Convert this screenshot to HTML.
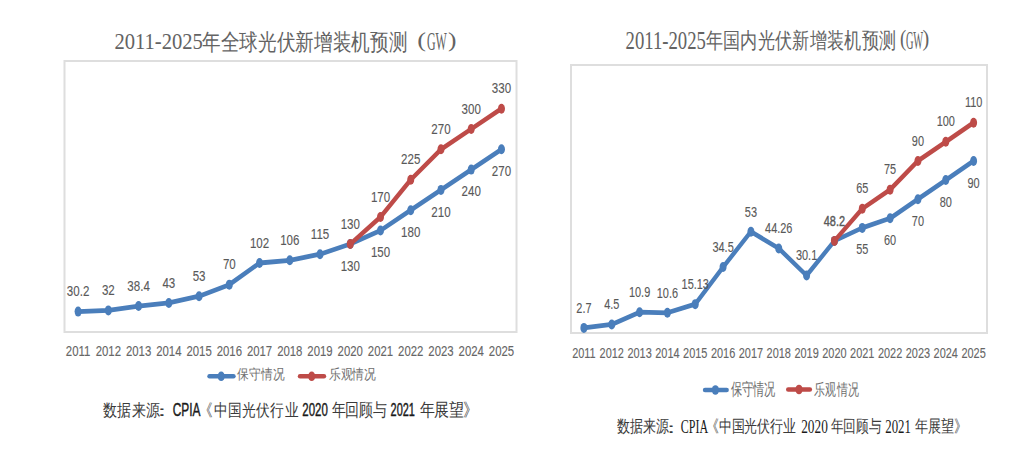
<!DOCTYPE html><html><head><meta charset="utf-8"><style>html,body{margin:0;padding:0;background:#fff;width:1015px;height:456px;overflow:hidden}svg{display:block;font-family:"Liberation Sans",sans-serif}</style></head><body>
<svg width="1015" height="456" viewBox="0 0 1015 456">
<rect x="64.5" y="61" width="452.0" height="271" fill="none" stroke="#dedede" stroke-width="2"/>
<g transform="scale(1,1.2)"><polyline points="78.10,259.667 108.34,258.652 138.58,255.042 168.82,252.448 199.06,246.808 229.30,237.220 259.54,219.172 289.78,216.916 320.02,211.840 350.26,203.380 380.50,192.100 410.74,175.180 440.98,158.260 471.22,141.340 501.46,124.420" fill="none" stroke="#4a7ebb" stroke-width="4.0" stroke-linejoin="round"/></g>
<ellipse cx="78.10" cy="311.60" rx="3.5" ry="5" fill="#4a7ebb"/>
<ellipse cx="108.34" cy="310.38" rx="3.5" ry="5" fill="#4a7ebb"/>
<ellipse cx="138.58" cy="306.05" rx="3.5" ry="5" fill="#4a7ebb"/>
<ellipse cx="168.82" cy="302.94" rx="3.5" ry="5" fill="#4a7ebb"/>
<ellipse cx="199.06" cy="296.17" rx="3.5" ry="5" fill="#4a7ebb"/>
<ellipse cx="229.30" cy="284.66" rx="3.5" ry="5" fill="#4a7ebb"/>
<ellipse cx="259.54" cy="263.01" rx="3.5" ry="5" fill="#4a7ebb"/>
<ellipse cx="289.78" cy="260.30" rx="3.5" ry="5" fill="#4a7ebb"/>
<ellipse cx="320.02" cy="254.21" rx="3.5" ry="5" fill="#4a7ebb"/>
<ellipse cx="350.26" cy="244.06" rx="3.5" ry="5" fill="#4a7ebb"/>
<ellipse cx="380.50" cy="230.52" rx="3.5" ry="5" fill="#4a7ebb"/>
<ellipse cx="410.74" cy="210.22" rx="3.5" ry="5" fill="#4a7ebb"/>
<ellipse cx="440.98" cy="189.91" rx="3.5" ry="5" fill="#4a7ebb"/>
<ellipse cx="471.22" cy="169.61" rx="3.5" ry="5" fill="#4a7ebb"/>
<ellipse cx="501.46" cy="149.30" rx="3.5" ry="5" fill="#4a7ebb"/>
<g transform="scale(1,1.2)"><polyline points="350.26,203.380 380.50,180.820 410.74,149.800 440.98,124.420 471.22,107.500 501.46,90.580" fill="none" stroke="#be4b48" stroke-width="4.0" stroke-linejoin="round"/></g>
<ellipse cx="350.26" cy="244.06" rx="3.5" ry="5" fill="#be4b48"/>
<ellipse cx="380.50" cy="216.98" rx="3.5" ry="5" fill="#be4b48"/>
<ellipse cx="410.74" cy="179.76" rx="3.5" ry="5" fill="#be4b48"/>
<ellipse cx="440.98" cy="149.30" rx="3.5" ry="5" fill="#be4b48"/>
<ellipse cx="471.22" cy="129.00" rx="3.5" ry="5" fill="#be4b48"/>
<ellipse cx="501.46" cy="108.70" rx="3.5" ry="5" fill="#be4b48"/>
<text transform="translate(78.10,296.40) scale(0.78,1)" text-anchor="middle" font-size="14.8" fill="#595959" stroke="#595959" stroke-width="0.12">30.2</text>
<text transform="translate(108.34,295.18) scale(0.78,1)" text-anchor="middle" font-size="14.8" fill="#595959" stroke="#595959" stroke-width="0.12">32</text>
<text transform="translate(138.58,290.85) scale(0.78,1)" text-anchor="middle" font-size="14.8" fill="#595959" stroke="#595959" stroke-width="0.12">38.4</text>
<text transform="translate(168.82,287.74) scale(0.78,1)" text-anchor="middle" font-size="14.8" fill="#595959" stroke="#595959" stroke-width="0.12">43</text>
<text transform="translate(199.06,280.97) scale(0.78,1)" text-anchor="middle" font-size="14.8" fill="#595959" stroke="#595959" stroke-width="0.12">53</text>
<text transform="translate(229.30,269.46) scale(0.78,1)" text-anchor="middle" font-size="14.8" fill="#595959" stroke="#595959" stroke-width="0.12">70</text>
<text transform="translate(259.54,247.81) scale(0.78,1)" text-anchor="middle" font-size="14.8" fill="#595959" stroke="#595959" stroke-width="0.12">102</text>
<text transform="translate(289.78,245.10) scale(0.78,1)" text-anchor="middle" font-size="14.8" fill="#595959" stroke="#595959" stroke-width="0.12">106</text>
<text transform="translate(320.02,239.01) scale(0.78,1)" text-anchor="middle" font-size="14.8" fill="#595959" stroke="#595959" stroke-width="0.12">115</text>
<text transform="translate(350.26,270.66) scale(0.78,1)" text-anchor="middle" font-size="14.8" fill="#595959" stroke="#595959" stroke-width="0.12">130</text>
<text transform="translate(380.50,257.12) scale(0.78,1)" text-anchor="middle" font-size="14.8" fill="#595959" stroke="#595959" stroke-width="0.12">150</text>
<text transform="translate(410.74,236.82) scale(0.78,1)" text-anchor="middle" font-size="14.8" fill="#595959" stroke="#595959" stroke-width="0.12">180</text>
<text transform="translate(440.98,216.51) scale(0.78,1)" text-anchor="middle" font-size="14.8" fill="#595959" stroke="#595959" stroke-width="0.12">210</text>
<text transform="translate(471.22,196.21) scale(0.78,1)" text-anchor="middle" font-size="14.8" fill="#595959" stroke="#595959" stroke-width="0.12">240</text>
<text transform="translate(501.46,175.90) scale(0.78,1)" text-anchor="middle" font-size="14.8" fill="#595959" stroke="#595959" stroke-width="0.12">270</text>
<text transform="translate(350.26,228.66) scale(0.78,1)" text-anchor="middle" font-size="14.8" fill="#595959" stroke="#595959" stroke-width="0.12">130</text>
<text transform="translate(380.50,201.58) scale(0.78,1)" text-anchor="middle" font-size="14.8" fill="#595959" stroke="#595959" stroke-width="0.12">170</text>
<text transform="translate(410.74,164.36) scale(0.78,1)" text-anchor="middle" font-size="14.8" fill="#595959" stroke="#595959" stroke-width="0.12">225</text>
<text transform="translate(440.98,133.90) scale(0.78,1)" text-anchor="middle" font-size="14.8" fill="#595959" stroke="#595959" stroke-width="0.12">270</text>
<text transform="translate(471.22,113.60) scale(0.78,1)" text-anchor="middle" font-size="14.8" fill="#595959" stroke="#595959" stroke-width="0.12">300</text>
<text transform="translate(501.46,93.30) scale(0.78,1)" text-anchor="middle" font-size="14.8" fill="#595959" stroke="#595959" stroke-width="0.12">330</text>
<text transform="translate(78.10,356.30) scale(0.78,1)" text-anchor="middle" font-size="14.6" fill="#666666" stroke="#666666" stroke-width="0.12">2011</text>
<text transform="translate(108.34,356.30) scale(0.78,1)" text-anchor="middle" font-size="14.6" fill="#666666" stroke="#666666" stroke-width="0.12">2012</text>
<text transform="translate(138.58,356.30) scale(0.78,1)" text-anchor="middle" font-size="14.6" fill="#666666" stroke="#666666" stroke-width="0.12">2013</text>
<text transform="translate(168.82,356.30) scale(0.78,1)" text-anchor="middle" font-size="14.6" fill="#666666" stroke="#666666" stroke-width="0.12">2014</text>
<text transform="translate(199.06,356.30) scale(0.78,1)" text-anchor="middle" font-size="14.6" fill="#666666" stroke="#666666" stroke-width="0.12">2015</text>
<text transform="translate(229.30,356.30) scale(0.78,1)" text-anchor="middle" font-size="14.6" fill="#666666" stroke="#666666" stroke-width="0.12">2016</text>
<text transform="translate(259.54,356.30) scale(0.78,1)" text-anchor="middle" font-size="14.6" fill="#666666" stroke="#666666" stroke-width="0.12">2017</text>
<text transform="translate(289.78,356.30) scale(0.78,1)" text-anchor="middle" font-size="14.6" fill="#666666" stroke="#666666" stroke-width="0.12">2018</text>
<text transform="translate(320.02,356.30) scale(0.78,1)" text-anchor="middle" font-size="14.6" fill="#666666" stroke="#666666" stroke-width="0.12">2019</text>
<text transform="translate(350.26,356.30) scale(0.78,1)" text-anchor="middle" font-size="14.6" fill="#666666" stroke="#666666" stroke-width="0.12">2020</text>
<text transform="translate(380.50,356.30) scale(0.78,1)" text-anchor="middle" font-size="14.6" fill="#666666" stroke="#666666" stroke-width="0.12">2021</text>
<text transform="translate(410.74,356.30) scale(0.78,1)" text-anchor="middle" font-size="14.6" fill="#666666" stroke="#666666" stroke-width="0.12">2022</text>
<text transform="translate(440.98,356.30) scale(0.78,1)" text-anchor="middle" font-size="14.6" fill="#666666" stroke="#666666" stroke-width="0.12">2023</text>
<text transform="translate(471.22,356.30) scale(0.78,1)" text-anchor="middle" font-size="14.6" fill="#666666" stroke="#666666" stroke-width="0.12">2024</text>
<text transform="translate(501.46,356.30) scale(0.78,1)" text-anchor="middle" font-size="14.6" fill="#666666" stroke="#666666" stroke-width="0.12">2025</text>
<rect x="571" y="65" width="416" height="268" fill="none" stroke="#dedede" stroke-width="2"/>
<g transform="scale(1,1.2)"><polyline points="583.90,273.247 611.74,270.379 639.57,260.179 667.41,260.657 695.24,253.438 723.08,222.569 750.92,193.086 778.75,207.014 806.59,229.581 834.42,200.735 862.26,189.898 890.10,181.930 917.93,165.993 945.77,150.057 973.60,134.120" fill="none" stroke="#4a7ebb" stroke-width="4.0" stroke-linejoin="round"/></g>
<ellipse cx="583.90" cy="327.90" rx="3.5" ry="5" fill="#4a7ebb"/>
<ellipse cx="611.74" cy="324.45" rx="3.5" ry="5" fill="#4a7ebb"/>
<ellipse cx="639.57" cy="312.21" rx="3.5" ry="5" fill="#4a7ebb"/>
<ellipse cx="667.41" cy="312.79" rx="3.5" ry="5" fill="#4a7ebb"/>
<ellipse cx="695.24" cy="304.13" rx="3.5" ry="5" fill="#4a7ebb"/>
<ellipse cx="723.08" cy="267.08" rx="3.5" ry="5" fill="#4a7ebb"/>
<ellipse cx="750.92" cy="231.70" rx="3.5" ry="5" fill="#4a7ebb"/>
<ellipse cx="778.75" cy="248.42" rx="3.5" ry="5" fill="#4a7ebb"/>
<ellipse cx="806.59" cy="275.50" rx="3.5" ry="5" fill="#4a7ebb"/>
<ellipse cx="834.42" cy="240.88" rx="3.5" ry="5" fill="#4a7ebb"/>
<ellipse cx="862.26" cy="227.88" rx="3.5" ry="5" fill="#4a7ebb"/>
<ellipse cx="890.10" cy="218.32" rx="3.5" ry="5" fill="#4a7ebb"/>
<ellipse cx="917.93" cy="199.19" rx="3.5" ry="5" fill="#4a7ebb"/>
<ellipse cx="945.77" cy="180.07" rx="3.5" ry="5" fill="#4a7ebb"/>
<ellipse cx="973.60" cy="160.94" rx="3.5" ry="5" fill="#4a7ebb"/>
<g transform="scale(1,1.2)"><polyline points="834.42,200.735 862.26,173.962 890.10,158.025 917.93,134.120 945.77,118.183 973.60,102.247" fill="none" stroke="#be4b48" stroke-width="4.0" stroke-linejoin="round"/></g>
<ellipse cx="834.42" cy="240.88" rx="3.5" ry="5" fill="#be4b48"/>
<ellipse cx="862.26" cy="208.75" rx="3.5" ry="5" fill="#be4b48"/>
<ellipse cx="890.10" cy="189.63" rx="3.5" ry="5" fill="#be4b48"/>
<ellipse cx="917.93" cy="160.94" rx="3.5" ry="5" fill="#be4b48"/>
<ellipse cx="945.77" cy="141.82" rx="3.5" ry="5" fill="#be4b48"/>
<ellipse cx="973.60" cy="122.70" rx="3.5" ry="5" fill="#be4b48"/>
<text transform="translate(583.90,312.70) scale(0.77,1)" text-anchor="middle" font-size="14.2" fill="#595959" stroke="#595959" stroke-width="0.12">2.7</text>
<text transform="translate(611.74,309.25) scale(0.77,1)" text-anchor="middle" font-size="14.2" fill="#595959" stroke="#595959" stroke-width="0.12">4.5</text>
<text transform="translate(639.57,297.01) scale(0.77,1)" text-anchor="middle" font-size="14.2" fill="#595959" stroke="#595959" stroke-width="0.12">10.9</text>
<text transform="translate(667.41,297.59) scale(0.77,1)" text-anchor="middle" font-size="14.2" fill="#595959" stroke="#595959" stroke-width="0.12">10.6</text>
<text transform="translate(695.24,288.93) scale(0.77,1)" text-anchor="middle" font-size="14.2" fill="#595959" stroke="#595959" stroke-width="0.12">15.13</text>
<text transform="translate(723.08,251.88) scale(0.77,1)" text-anchor="middle" font-size="14.2" fill="#595959" stroke="#595959" stroke-width="0.12">34.5</text>
<text transform="translate(750.92,216.50) scale(0.77,1)" text-anchor="middle" font-size="14.2" fill="#595959" stroke="#595959" stroke-width="0.12">53</text>
<text transform="translate(778.75,233.22) scale(0.77,1)" text-anchor="middle" font-size="14.2" fill="#595959" stroke="#595959" stroke-width="0.12">44.26</text>
<text transform="translate(806.59,260.30) scale(0.77,1)" text-anchor="middle" font-size="14.2" fill="#595959" stroke="#595959" stroke-width="0.12">30.1</text>
<text transform="translate(834.42,225.68) scale(0.77,1)" text-anchor="middle" font-size="14.2" fill="#595959" stroke="#595959" stroke-width="0.4">48.2</text>
<text transform="translate(862.26,254.48) scale(0.77,1)" text-anchor="middle" font-size="14.2" fill="#595959" stroke="#595959" stroke-width="0.12">55</text>
<text transform="translate(890.10,244.92) scale(0.77,1)" text-anchor="middle" font-size="14.2" fill="#595959" stroke="#595959" stroke-width="0.12">60</text>
<text transform="translate(917.93,225.79) scale(0.77,1)" text-anchor="middle" font-size="14.2" fill="#595959" stroke="#595959" stroke-width="0.12">70</text>
<text transform="translate(945.77,206.67) scale(0.77,1)" text-anchor="middle" font-size="14.2" fill="#595959" stroke="#595959" stroke-width="0.12">80</text>
<text transform="translate(973.60,187.54) scale(0.77,1)" text-anchor="middle" font-size="14.2" fill="#595959" stroke="#595959" stroke-width="0.12">90</text>
<text transform="translate(862.26,193.35) scale(0.77,1)" text-anchor="middle" font-size="14.2" fill="#595959" stroke="#595959" stroke-width="0.12">65</text>
<text transform="translate(890.10,174.23) scale(0.77,1)" text-anchor="middle" font-size="14.2" fill="#595959" stroke="#595959" stroke-width="0.12">75</text>
<text transform="translate(917.93,145.54) scale(0.77,1)" text-anchor="middle" font-size="14.2" fill="#595959" stroke="#595959" stroke-width="0.12">90</text>
<text transform="translate(945.77,126.42) scale(0.77,1)" text-anchor="middle" font-size="14.2" fill="#595959" stroke="#595959" stroke-width="0.12">100</text>
<text transform="translate(973.60,107.30) scale(0.77,1)" text-anchor="middle" font-size="14.2" fill="#595959" stroke="#595959" stroke-width="0.12">110</text>
<text transform="translate(583.90,358.20) scale(0.72,1)" text-anchor="middle" font-size="15.2" fill="#666666" stroke="#666666" stroke-width="0.12">2011</text>
<text transform="translate(611.74,358.20) scale(0.72,1)" text-anchor="middle" font-size="15.2" fill="#666666" stroke="#666666" stroke-width="0.12">2012</text>
<text transform="translate(639.57,358.20) scale(0.72,1)" text-anchor="middle" font-size="15.2" fill="#666666" stroke="#666666" stroke-width="0.12">2013</text>
<text transform="translate(667.41,358.20) scale(0.72,1)" text-anchor="middle" font-size="15.2" fill="#666666" stroke="#666666" stroke-width="0.12">2014</text>
<text transform="translate(695.24,358.20) scale(0.72,1)" text-anchor="middle" font-size="15.2" fill="#666666" stroke="#666666" stroke-width="0.12">2015</text>
<text transform="translate(723.08,358.20) scale(0.72,1)" text-anchor="middle" font-size="15.2" fill="#666666" stroke="#666666" stroke-width="0.12">2016</text>
<text transform="translate(750.92,358.20) scale(0.72,1)" text-anchor="middle" font-size="15.2" fill="#666666" stroke="#666666" stroke-width="0.12">2017</text>
<text transform="translate(778.75,358.20) scale(0.72,1)" text-anchor="middle" font-size="15.2" fill="#666666" stroke="#666666" stroke-width="0.12">2018</text>
<text transform="translate(806.59,358.20) scale(0.72,1)" text-anchor="middle" font-size="15.2" fill="#666666" stroke="#666666" stroke-width="0.12">2019</text>
<text transform="translate(834.42,358.20) scale(0.72,1)" text-anchor="middle" font-size="15.2" fill="#666666" stroke="#666666" stroke-width="0.12">2020</text>
<text transform="translate(862.26,358.20) scale(0.72,1)" text-anchor="middle" font-size="15.2" fill="#666666" stroke="#666666" stroke-width="0.12">2021</text>
<text transform="translate(890.10,358.20) scale(0.72,1)" text-anchor="middle" font-size="15.2" fill="#666666" stroke="#666666" stroke-width="0.12">2022</text>
<text transform="translate(917.93,358.20) scale(0.72,1)" text-anchor="middle" font-size="15.2" fill="#666666" stroke="#666666" stroke-width="0.12">2023</text>
<text transform="translate(945.77,358.20) scale(0.72,1)" text-anchor="middle" font-size="15.2" fill="#666666" stroke="#666666" stroke-width="0.12">2024</text>
<text transform="translate(973.60,358.20) scale(0.72,1)" text-anchor="middle" font-size="15.2" fill="#666666" stroke="#666666" stroke-width="0.12">2025</text>
<line x1="209.5" y1="376.3" x2="233.5" y2="376.3" stroke="#4a7ebb" stroke-width="4.4" stroke-linecap="round"/>
<ellipse cx="221.2" cy="376.3" rx="3.6" ry="4.8" fill="#4a7ebb"/>
<line x1="300" y1="376.3" x2="324" y2="376.3" stroke="#be4b48" stroke-width="4.4" stroke-linecap="round"/>
<ellipse cx="311.7" cy="376.3" rx="3.6" ry="4.8" fill="#be4b48"/>
<line x1="705" y1="390" x2="726.7" y2="390" stroke="#4a7ebb" stroke-width="4.4" stroke-linecap="round"/>
<ellipse cx="715.4" cy="390" rx="3.6" ry="4.8" fill="#4a7ebb"/>
<line x1="788.2" y1="389.5" x2="809.9" y2="389.5" stroke="#be4b48" stroke-width="4.4" stroke-linecap="round"/>
<ellipse cx="799" cy="389.5" rx="3.6" ry="4.8" fill="#be4b48"/>
<text transform="matrix(0.20592,0,0,0.23382,104.180,2.568)" x="50" y="200" font-family="Liberation Serif" font-weight="normal" font-size="100" fill="#636363">2011-2025</text>
<text transform="matrix(0.18548,0,0,0.22919,192.677,4.050)" x="50" y="200" font-family="Liberation Serif" font-weight="normal" font-size="100" fill="#636363">年全球光伏新增装机预测</text>
<text transform="matrix(0.26342,0,0,0.21388,404.100,4.187)" x="50" y="200" font-family="Liberation Serif" font-weight="normal" font-size="100" fill="#636363">(</text>
<text transform="matrix(0.11931,0,0,0.25440,421.051,-1.158)" x="50" y="200" font-family="Liberation Serif" font-weight="normal" font-size="100" fill="#636363">GW</text>
<text transform="matrix(0.25385,0,0,0.20889,435.346,5.036)" x="50" y="200" font-family="Liberation Serif" font-weight="normal" font-size="100" fill="#636363">)</text>
<text transform="matrix(0.18695,0,0,0.25429,616.263,-2.231)" x="50" y="200" font-family="Liberation Serif" font-weight="normal" font-size="100" fill="#636363">2011-2025</text>
<text transform="matrix(0.17379,0,0,0.22347,696.837,3.378)" x="50" y="200" font-family="Liberation Serif" font-weight="normal" font-size="100" fill="#636363">年国内光伏新增装机预测</text>
<text transform="matrix(0.18706,0,0,0.23400,890.584,-0.502)" x="50" y="200" font-family="Liberation Serif" font-weight="normal" font-size="100" fill="#636363">(</text>
<text transform="matrix(0.10365,0,0,0.24668,900.704,-0.667)" x="50" y="200" font-family="Liberation Serif" font-weight="normal" font-size="100" fill="#636363">GW</text>
<text transform="matrix(0.20226,0,0,0.23432,912.485,-0.465)" x="50" y="200" font-family="Liberation Serif" font-weight="normal" font-size="100" fill="#636363">)</text>
<text transform="matrix(0.11933,0,0,0.14288,231.257,350.653)" x="50" y="200" font-family="Liberation Serif" font-weight="normal" font-size="100" fill="#6e6e6e">保守情况</text>
<text transform="matrix(0.11625,0,0,0.13797,322.955,351.565)" x="50" y="200" font-family="Liberation Serif" font-weight="normal" font-size="100" fill="#6e6e6e">乐观情况</text>
<text transform="matrix(0.10961,0,0,0.16674,725.454,362.150)" x="50" y="200" font-family="Liberation Serif" font-weight="normal" font-size="100" fill="#6e6e6e">保守情况</text>
<text transform="matrix(0.11268,0,0,0.16423,808.539,361.723)" x="50" y="200" font-family="Liberation Serif" font-weight="normal" font-size="100" fill="#6e6e6e">乐观情况</text>
<text transform="matrix(0.14194,0,0,0.17245,95.950,381.279)" x="50" y="200" font-family="Liberation Sans" font-weight="normal" font-size="100" fill="#3a3a3a">数据来源</text>
<text transform="matrix(0.28333,0,0,0.15294,134.067,385.812)" x="50" y="200" font-family="Liberation Sans" font-weight="normal" font-size="100" fill="#3a3a3a">：</text>
<text transform="matrix(0.11906,0,0,0.17616,166.802,381.259)" x="50" y="200" font-family="Liberation Sans" font-weight="normal" font-size="100" fill="#1a1a1a" stroke="#1a1a1a" stroke-width="2.417">CPIA</text>
<text transform="matrix(0.13886,0,0,0.17237,192.537,381.639)" x="50" y="200" font-family="Liberation Sans" font-weight="normal" font-size="100" fill="#3a3a3a">《中国光伏行业</text>
<text transform="matrix(0.11455,0,0,0.17746,296.600,380.230)" x="50" y="200" font-family="Liberation Sans" font-weight="normal" font-size="100" fill="#1a1a1a" stroke="#1a1a1a" stroke-width="2.455">2020</text>
<text transform="matrix(0.13724,0,0,0.17708,324.783,380.539)" x="50" y="200" font-family="Liberation Sans" font-weight="normal" font-size="100" fill="#3a3a3a">年回顾与</text>
<text transform="matrix(0.10939,0,0,0.17746,385.084,380.230)" x="50" y="200" font-family="Liberation Sans" font-weight="normal" font-size="100" fill="#1a1a1a" stroke="#1a1a1a" stroke-width="2.512">2021</text>
<text transform="matrix(0.14829,0,0,0.17797,412.560,380.851)" x="50" y="200" font-family="Liberation Sans" font-weight="normal" font-size="100" fill="#3a3a3a">年展望》</text>
<text transform="matrix(0.12839,0,0,0.16771,610.552,398.510)" x="50" y="200" font-family="Liberation Serif" font-weight="normal" font-size="100" fill="#3a3a3a">数据来源</text>
<text transform="matrix(0.26308,0,0,0.15082,644.914,402.996)" x="50" y="200" font-family="Liberation Serif" font-weight="normal" font-size="100" fill="#3a3a3a">：</text>
<text transform="matrix(0.11999,0,0,0.17820,674.742,397.733)" x="50" y="200" font-family="Liberation Serif" font-weight="normal" font-size="100" fill="#1a1a1a">CPIA</text>
<text transform="matrix(0.12961,0,0,0.17027,699.358,398.271)" x="50" y="200" font-family="Liberation Serif" font-weight="normal" font-size="100" fill="#3a3a3a">《中国光伏行业</text>
<text transform="matrix(0.13333,0,0,0.17941,794.500,396.659)" x="50" y="200" font-family="Liberation Serif" font-weight="normal" font-size="100" fill="#1a1a1a">2020</text>
<text transform="matrix(0.12637,0,0,0.17027,824.359,398.276)" x="50" y="200" font-family="Liberation Serif" font-weight="normal" font-size="100" fill="#3a3a3a">年回顾与</text>
<text transform="matrix(0.12854,0,0,0.18189,878.809,396.818)" x="50" y="200" font-family="Liberation Serif" font-weight="normal" font-size="100" fill="#1a1a1a">2021</text>
<text transform="matrix(0.12974,0,0,0.16771,908.583,398.510)" x="50" y="200" font-family="Liberation Serif" font-weight="normal" font-size="100" fill="#3a3a3a">年展望》</text>
</svg></body></html>
